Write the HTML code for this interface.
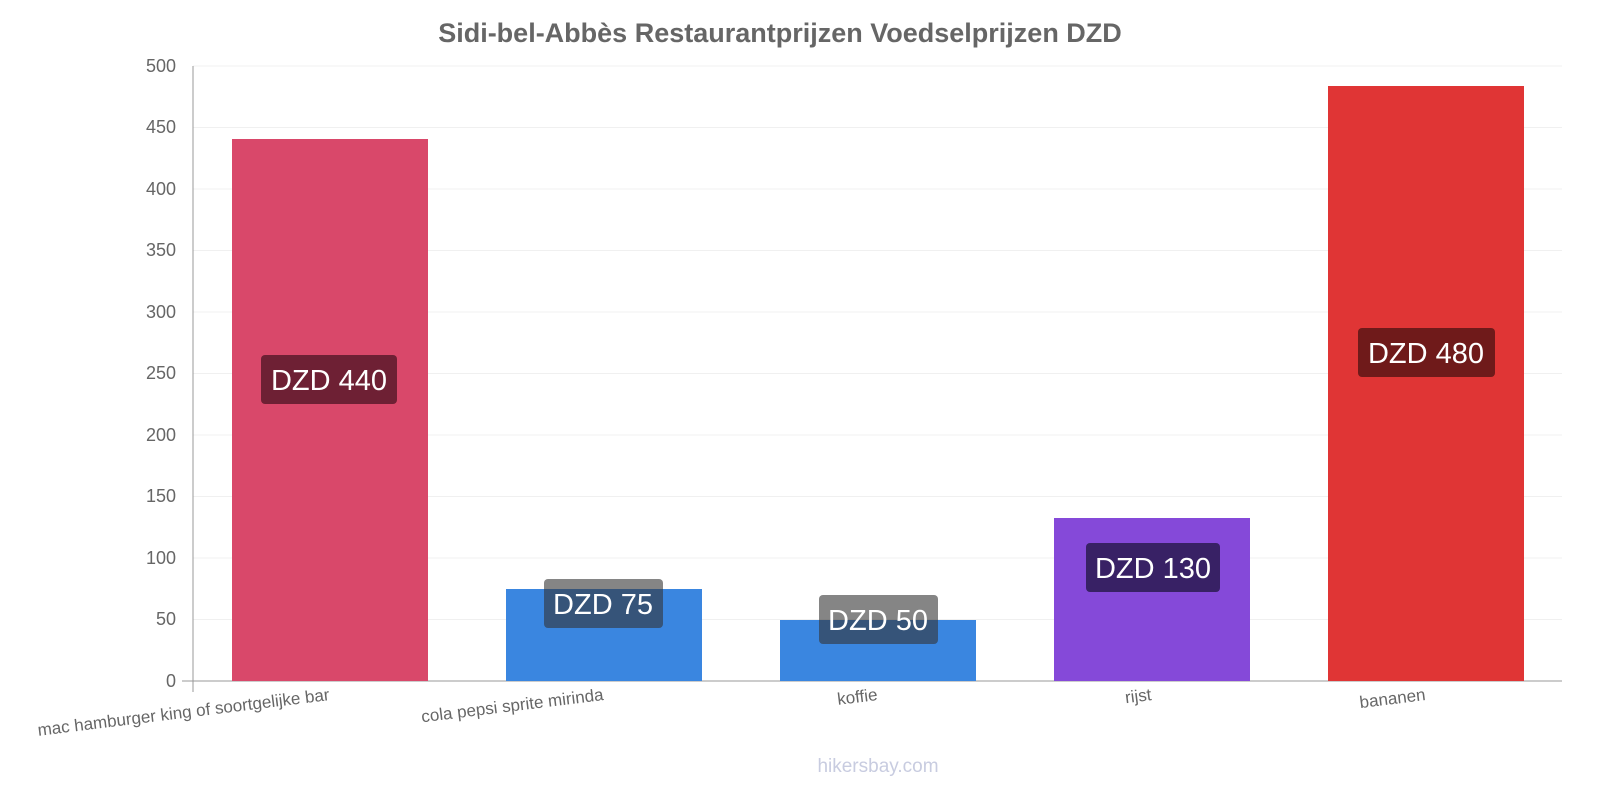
<!DOCTYPE html>
<html><head><meta charset="utf-8"><style>
body{margin:0;background:#fff;}
svg text{font-family:"Liberation Sans",sans-serif;}
</style></head><body>
<svg width="1600" height="800" xmlns="http://www.w3.org/2000/svg">
<rect width="1600" height="800" fill="#fff"/>
<text x="780" y="42" text-anchor="middle" font-size="27" font-weight="bold" fill="#666">Sidi-bel-Abbès Restaurantprijzen Voedselprijzen DZD</text>
<g stroke="#f0f0f0" stroke-width="1">
<line x1="193" y1="66" x2="1562" y2="66"/><line x1="193" y1="127.5" x2="1562" y2="127.5"/>
<line x1="193" y1="189" x2="1562" y2="189"/><line x1="193" y1="250.5" x2="1562" y2="250.5"/>
<line x1="193" y1="312" x2="1562" y2="312"/><line x1="193" y1="373.5" x2="1562" y2="373.5"/>
<line x1="193" y1="435" x2="1562" y2="435"/><line x1="193" y1="496.5" x2="1562" y2="496.5"/>
<line x1="193" y1="558" x2="1562" y2="558"/><line x1="193" y1="619.5" x2="1562" y2="619.5"/>
</g>
<g font-size="18" fill="#666" text-anchor="end">
<text x="176" y="72">500</text><text x="176" y="133">450</text><text x="176" y="195">400</text>
<text x="176" y="256">350</text><text x="176" y="318">300</text><text x="176" y="379">250</text>
<text x="176" y="441">200</text><text x="176" y="502">150</text><text x="176" y="564">100</text>
<text x="176" y="625">50</text><text x="176" y="687">0</text>
</g>
<g stroke="#999"><line x1="193" y1="66" x2="193" y2="692"/><line x1="182" y1="681" x2="1562" y2="681"/></g>
<rect x="232" y="139" width="196" height="542" fill="#d9486a"/>
<rect x="506" y="589" width="196" height="92" fill="#3a86e0"/>
<rect x="780" y="620" width="196" height="61" fill="#3a86e0"/>
<rect x="1054" y="518" width="196" height="163" fill="#8549d9"/>
<rect x="1328" y="86" width="196" height="595" fill="#e03535"/>
<g font-size="29" fill="#fff" text-anchor="middle">
<rect x="261" y="355" width="136" height="49" rx="4" fill="#5a1a2a" fill-opacity="0.85"/><text x="329" y="390">DZD 440</text>
<rect x="544" y="579" width="119" height="49" rx="4" fill="#333" fill-opacity="0.6"/><text x="603" y="614">DZD 75</text>
<rect x="819" y="595" width="119" height="49" rx="4" fill="#333" fill-opacity="0.6"/><text x="878" y="630">DZD 50</text>
<rect x="1086" y="543" width="134" height="49" rx="4" fill="#2a1a50" fill-opacity="0.85"/><text x="1153" y="578">DZD 130</text>
<rect x="1358" y="328" width="137" height="49" rx="4" fill="#5a1515" fill-opacity="0.85"/><text x="1426" y="363">DZD 480</text>
</g>
<g font-size="17" fill="#666" text-anchor="end">
<text transform="translate(330,700) rotate(-7)">mac hamburger king of soortgelijke bar</text>
<text transform="translate(604,700) rotate(-7)">cola pepsi sprite mirinda</text>
<text transform="translate(878,700) rotate(-7)">koffie</text>
<text transform="translate(1152,700) rotate(-7)">rijst</text>
<text transform="translate(1426,700) rotate(-7)">bananen</text>
</g>
<text x="878" y="772" text-anchor="middle" font-size="19" fill="#c8cce0">hikersbay.com</text>
</svg>
</body></html>
